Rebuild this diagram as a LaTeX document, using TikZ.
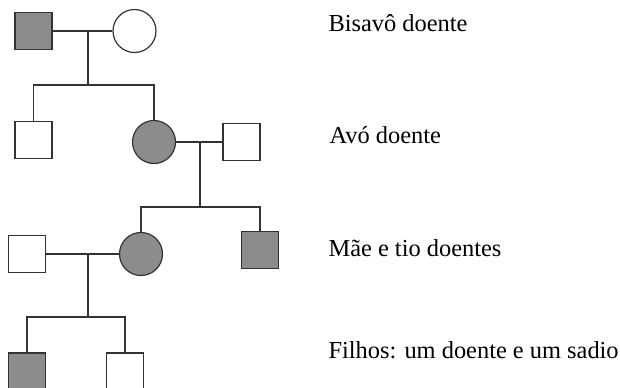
\documentclass[tikz,border=0pt]{standalone}
\usepackage{fontspec}
\setmainfont{Liberation Serif}
\begin{document}
\begin{tikzpicture}[x=0.5pt,y=-0.5pt,line width=0.6pt,
    every edge/.style={draw,black!80,line width=0.6pt},
    male/.style={rectangle,draw=black!80,minimum size=18.5pt,inner sep=0pt},
    female/.style={circle,draw=black!80,minimum size=21.5pt,inner sep=0pt},
    sick/.style={fill=black!45},
    lbl/.style={anchor=base west,inner sep=0pt,font=\rmfamily\fontsize{12.2}{14}\selectfont}]

        \useasboundingbox (0,0) rectangle (620,387);

        % geracoes
        \begin{scope}
          \node[male,sick]   (1)  at (33.5,31)  {};
          \node[female]      (2)  at (134.5,31) {};
          \node[male]        (3)  at (33.5,140) {};
          \node[female,sick] (4)  at (154,142)  {};
          \node[male]        (5)  at (241.5,142) {};
          \node[male]        (6)  at (27,254)   {};
          \node[female,sick] (7)  at (141,254)  {};
          \node[male,sick]   (8)  at (260,250)  {};
          \node[male,sick]   (9)  at (27,371.5) {};
          \node[male]        (10) at (125,371.5) {};
        \end{scope}

        \coordinate (m1) at (88,31);
        \coordinate (s1) at (88,85);
        \coordinate (m2) at (200,142);
        \coordinate (s2) at (200,207);
        \coordinate (m3) at (88,254);
        \coordinate (s3) at (88,317);

        \begin{scope}[black!80]
          \path (1) edge (2);
          \path (4) edge (5);
          \path (6) edge (7);
          \path (m1) edge (s1);
          \path (m2) edge (s2);
          \path (m3) edge (s3);
          \draw (3) |- (s1) -| (4);
          \draw (7) |- (s2) -| (8);
          \draw (9) |- (s3) -| (10);
        \end{scope}

        \node[lbl] (t1) at (328,31.7) {Bisavô doente};
        \node[lbl] (t2) at (329,143)  {Avó doente};
        \node[lbl] (t3) at (328,256)  {Mãe e tio doentes};
        \node[lbl] (t4) at (328,358)  {Filhos: um doente e um sadio};

      \end{tikzpicture}
\end{document}
